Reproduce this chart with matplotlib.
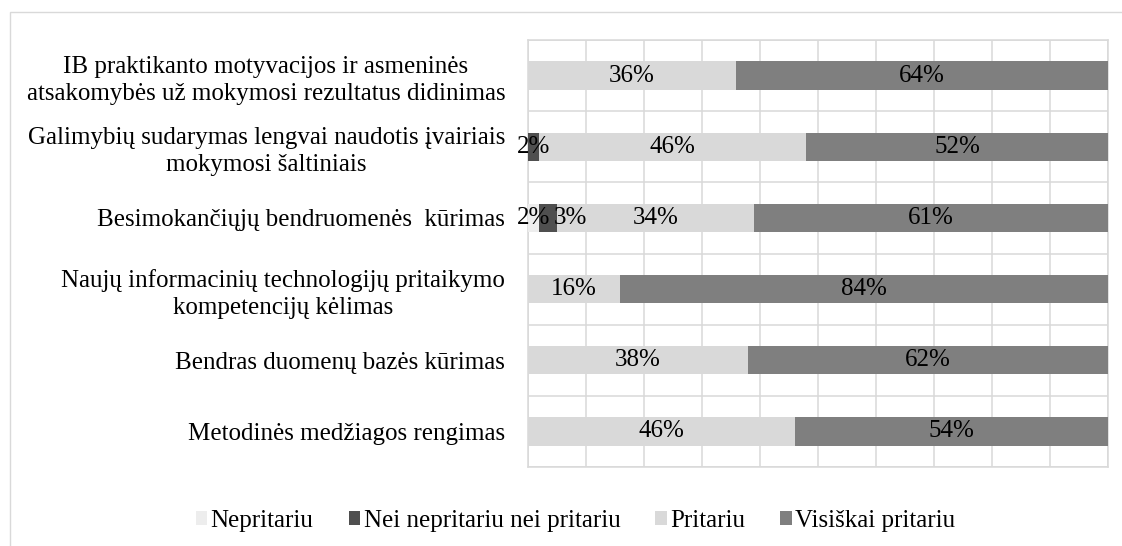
import numpy as np
import matplotlib
matplotlib.use("Agg")
import matplotlib.pyplot as plt
from matplotlib.patches import Rectangle

categories = [
    "IB praktikanto motyvacijos ir asmeninės\natsakomybės už mokymosi rezultatus didinimas",
    "Galimybių sudarymas lengvai naudotis įvairiais\nmokymosi šaltiniais",
    "Besimokančiųjų bendruomenės  kūrimas",
    "Naujų informacinių technologijų pritaikymo\nkompetencijų kėlimas",
    "Bendras duomenų bazės kūrimas",
    "Metodinės medžiagos rengimas",
]
series_names = ["Nepritariu", "Nei nepritariu nei pritariu", "Pritariu", "Visiškai pritariu"]
nepritariu = [0, 0, 2, 0, 0, 0]
nei = [0, 2, 3, 0, 0, 0]
pritariu = [36, 46, 34, 16, 38, 46]
visiskai = [64, 52, 61, 84, 62, 54]
colors = ["#EDEDED", "#4F4F4F", "#D9D9D9", "#7F7F7F"]

# label nudges (points) for crowded small segments: (row, series) -> dx
label_nudge = {(2, 1): 16}

plt.rcParams["font.family"] = ["Liberation Serif", "DejaVu Serif"]
fs = 18

fig = plt.figure(figsize=(11.22, 5.46), dpi=100)
ax = fig.add_axes([527.5 / 1122, 1 - 467 / 546, (1108 - 527.5) / 1122, (467 - 40) / 546])

y = np.arange(len(categories))
left = np.zeros(len(categories))
for si, (name, vals, col) in enumerate(zip(series_names, [nepritariu, nei, pritariu, visiskai], colors)):
    vals = np.array(vals, dtype=float)
    ax.barh(y, vals, left=left, height=0.4, color=col, label=name, zorder=3)
    for yi, (l, v) in enumerate(zip(left, vals)):
        if v > 0:
            ax.annotate(f"{int(v)}%", (l + v / 2, yi), xytext=(label_nudge.get((yi, si), 0), 0),
                        textcoords="offset points", ha="center", va="center",
                        fontsize=fs, color="black", zorder=4)
    left += vals

ax.set_xlim(0, 100)
ax.set_ylim(len(categories) - 0.5, -0.5)
ax.set_xticks(np.arange(0, 101, 10))
ax.set_xticklabels([])
ax.set_yticks(y)
ax.set_yticklabels(categories, fontsize=fs, linespacing=1.3)
for lab in ax.get_yticklabels():
    lab.set_multialignment("center")
ax.set_yticks(np.arange(-0.5, len(categories)), minor=True)
ax.tick_params(axis="both", which="both", length=0)
ax.tick_params(axis="y", pad=16)
ax.grid(axis="x", which="major", color="#D9D9D9", linewidth=1.1, zorder=0)
ax.grid(axis="y", which="minor", color="#D9D9D9", linewidth=1.1, zorder=0)
for s in ax.spines.values():
    s.set_color("#D9D9D9")
    s.set_linewidth(1.1)

fig.legend(loc="center", bbox_to_anchor=(0.513, 1 - 521 / 546), ncol=4, frameon=False,
           fontsize=fs, handlelength=0.45, handleheight=0.45, handletextpad=0.15,
           columnspacing=1.4)

fig.patches.append(Rectangle((10 / 1122, -0.1), 2, 1.1 - 12 / 546, transform=fig.transFigure,
                             fill=False, edgecolor="#D9D9D9", linewidth=1.0))

fig.savefig("out.png", dpi=100)
